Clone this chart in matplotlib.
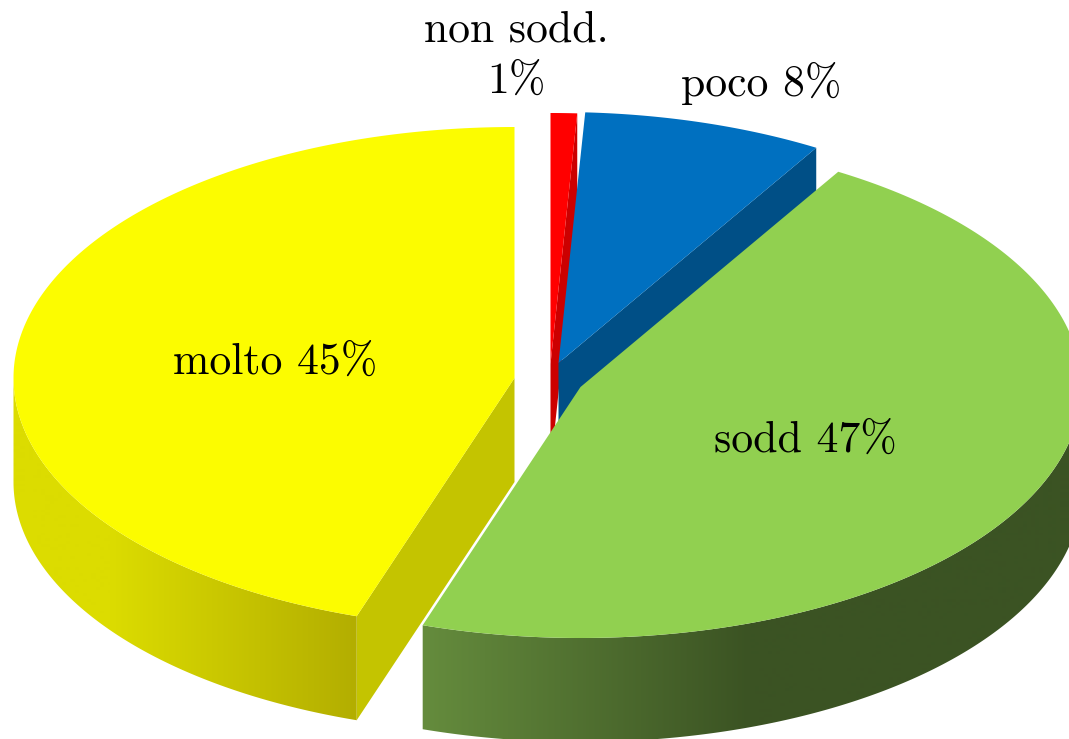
import matplotlib.pyplot as plt
from matplotlib.patches import Polygon
from matplotlib.colors import to_rgb
import numpy as np

names = ['non sodd.', 'poco', 'sodd', 'molto']
shares = [0.85, 7.75, 46.5, 44.9]
printed = ['1%', '8%', '47%', '45%']

#where each exploded slice sits (pixels)
centers = {'non sodd.': (550.5, 364), 'poco': (558.5, 363), 'sodd': (580.5, 387), 'molto': (514.5, 378)}
top_col = {'non sodd.': '#ff0000', 'poco': '#0070c0', 'sodd': '#91d050', 'molto': '#fcfc00'}
cut_col = {'non sodd.': '#cc0000', 'poco': '#004f86', 'molto': '#c4c400'}
side_stops = {'sodd': (422, 750, '#658c3d', '#3b5323'), 'molto': (110, 356, '#dcdc00', '#b3ae00')}

rx, ry = 501, 251
depth = 104

def rim(c, t):
    #t in degrees, clockwise from the top of the ellipse
    t = np.radians(t)
    return np.column_stack([c[0] + rx*np.sin(t), c[1] - ry*np.cos(t)])

fig = plt.figure(figsize=(10.69, 7.39), dpi=100)
ax = fig.add_axes([0, 0, 1, 1])

down = np.array([0, depth])
edges = np.cumsum([0] + shares)*3.6
xs = np.arange(0, 1070)

for name, a, b in zip(names, edges[:-1], edges[1:]):
    c = centers[name]
    apex = np.array(c, dtype=float)
    arc = rim(c, np.linspace(a, b, 200))

    #the flat cut face that can be seen
    if name in cut_col:
        p = rim(c, [a if name == 'molto' else b])[0]
        ax.fill(*zip(apex, p, p + down, apex + down), color=cut_col[name], lw=0, zorder=1)

    #curved outer wall, only the front half of the ellipse, gradient runs along x
    lo, hi = max(a, 90), min(b, 270)
    if name in side_stops and lo < hi:
        x0, x1, c0, c1 = side_stops[name]
        f = np.clip((xs - x0)/(x1 - x0), 0, 1)[:, None]
        grad = (1 - f)*np.array(to_rgb(c0)) + f*np.array(to_rgb(c1))
        wall = rim(c, np.linspace(lo, hi, 240))
        outline = np.vstack([wall, wall[::-1] + down])
        im = ax.imshow(grad[None, :, :], extent=(0, 1069, 739, 0), aspect='auto', zorder=2)
        im.set_clip_path(Polygon(outline, closed=True, transform=ax.transData))

    #top of the slice
    z = 4 if name == 'sodd' else 3
    ax.fill(*np.vstack([apex, arc]).T, color=top_col[name], lw=0, zorder=z)

ax.set_xlim(0, 1069)
ax.set_ylim(739, 0)
ax.axis('off')

plt.rcParams['font.family'] = ['cmr10', 'DejaVu Serif']
size = 31.5
ax.text(516, 30, names[0], ha='center', va='center', fontsize=size, zorder=6)
ax.text(516, 82, printed[0], ha='center', va='center', fontsize=size, zorder=6)
ax.text(761, 83, names[1] + ' ' + printed[1], ha='center', va='center', fontsize=size, zorder=6)
ax.text(805, 441, names[2] + ' ' + printed[2], ha='center', va='center', fontsize=size, zorder=6)
ax.text(275, 363, names[3] + ' ' + printed[3], ha='center', va='center', fontsize=size, zorder=6)

plt.savefig('out.png', dpi=100)
